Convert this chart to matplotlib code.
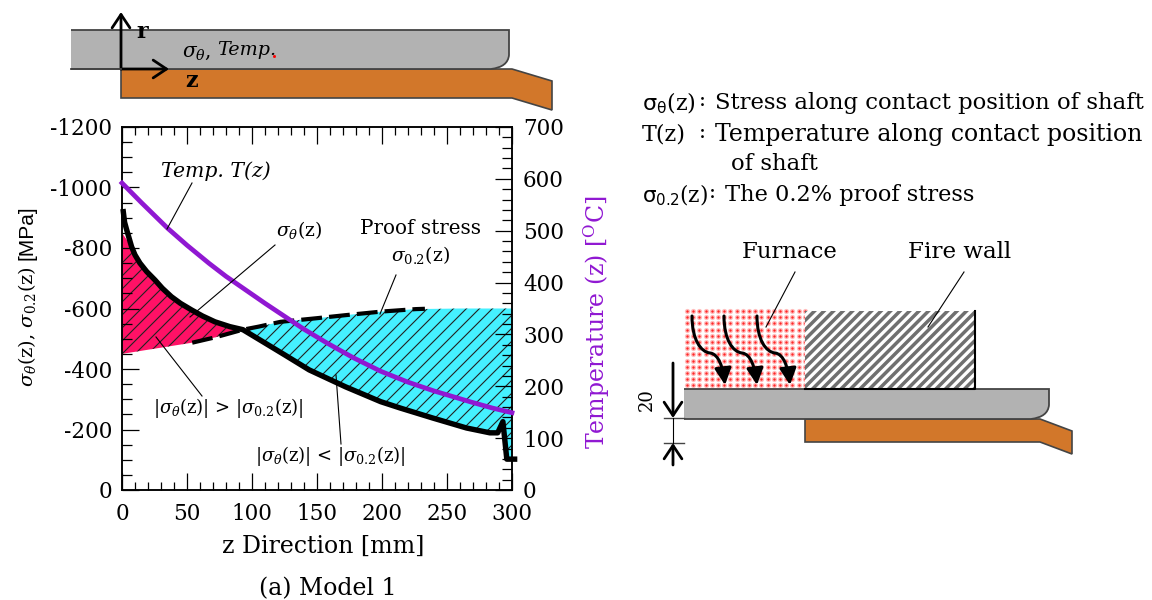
import numpy as np
import matplotlib
matplotlib.use("Agg")
import matplotlib.pyplot as plt
from matplotlib.patches import Polygon, Rectangle, FancyArrowPatch, PathPatch
from matplotlib.path import Path

plt.rcParams['font.family'] = ['DejaVu Serif']
plt.rcParams['mathtext.fontset'] = 'dejavuserif'

# values
z_stress = [1, 2, 3.6, 7.4, 10, 13.8, 19, 25.4, 31, 38, 45, 53.6, 62, 71.5, 83, 93, 110, 125, 144, 172, 199, 214, 239, 265, 283, 289, 293, 296, 302]
sigma = [-920, -885, -860, -804, -777, -750, -722, -694, -667, -639, -617, -595, -575, -556, -540, -530, -486, -447, -397, -341, -292, -271, -238, -205, -189, -189, -226, -102, -102]
z_proof = [0, 54, 72, 93, 105, 122, 150, 172, 200, 226, 260, 300]
proof = [-450, -487, -505, -530, -540, -556, -568, -578, -590, -598, -600, -600]
z_temp = [0, 15, 35, 50, 67, 80, 95, 110, 122, 140, 158, 178, 199, 220, 240, 268, 285, 300]
temp = [592, 554, 505, 472, 437, 412, 386, 360, 340, 310, 283, 255, 229, 208, 191, 170, 158, 149]
pink_start = -850
cross_z = 93

x_ticks = [0, 50, 100, 150, 200, 250, 300]
left_ticks = [0, -200, -400, -600, -800, -1000, -1200]
left_labels = ['0', '-200', '-400', '-600', '-800', '-1000', '-1200']
right_ticks = [0, 100, 200, 300, 400, 500, 600, 700]

PINK = '#ff1166'
CYAN = '#45f0ff'
PURPLE = '#9018d2'
BROWN = '#d2772a'
GRAY = '#b2b2b2'
EDGE = '#444444'
FS = 15.5

fig = plt.figure(figsize=(11.52, 6), dpi=100)
ax = fig.add_axes([122 / 1152, 110 / 600, 390 / 1152, 363 / 600])
ax.set_xlim(0, 300)
ax.set_ylim(0, -1200)

# overlay in pixel coordinates for the sketches and the notes
ov = fig.add_axes([0, 0, 1, 1], zorder=10)
ov.set_xlim(0, 1152)
ov.set_ylim(600, 0)
ov.axis('off')
ov.patch.set_alpha(0)

z_s = np.array(z_stress)
s = np.array(sigma)
z_p = np.array(z_proof)
p = np.array(proof)


def hatched(xs, ys, color):
    poly = Polygon(np.c_[xs, ys], closed=True, facecolor=color, edgecolor='none', zorder=1)
    ax.add_patch(poly)
    for c in np.arange(122, 512 + 240, 13):
        ln, = ax.plot([c - 240, c], [490, 250], color='#222222', lw=0.8,
                      transform=ov.transData, zorder=1.5)
        ln.set_clip_path(poly)


# region above the proof stress
keep_s = (z_s <= cross_z) & (s >= pink_start)
keep_p = z_p <= cross_z
hatched(np.r_[0, z_s[keep_s], z_p[keep_p][::-1]], np.r_[pink_start, s[keep_s], p[keep_p][::-1]], PINK)

# region below the proof stress
keep_s = z_s >= cross_z
keep_p = z_p >= cross_z
hatched(np.r_[z_p[keep_p], z_s[keep_s][::-1]], np.r_[p[keep_p], s[keep_s][::-1]], CYAN)

keep_p = (z_p >= 54) & (z_p <= 226)
ax.plot(np.r_[z_p[keep_p], 233], np.r_[p[keep_p], -599], color='k', lw=3, dashes=(5, 1.7), zorder=2)
ax.plot(z_s, s, color='k', lw=3.9, solid_joinstyle='round', clip_on=False, zorder=3)

ax.set_xticks(x_ticks)
ax.set_xticks(np.arange(0, 301, 10), minor=True)
ax.set_yticks(left_ticks)
ax.set_yticklabels(left_labels)
ax.set_yticks(np.arange(0, -1201, -50), minor=True)
ax.tick_params(axis='x', which='major', direction='in', top=True, length=12, width=0.9, labelsize=FS, pad=9)
ax.tick_params(axis='x', which='minor', direction='in', top=True, length=6, width=0.9)
ax.tick_params(axis='y', which='major', direction='in', length=12.5, width=0.9, labelsize=FS, pad=7)
ax.tick_params(axis='y', which='minor', direction='in', length=7, width=0.9)
for sp in ax.spines.values():
    sp.set_linewidth(1.1)

ax2 = ax.twinx()
ax2.set_ylim(0, 700)
ax2.set_yticks(right_ticks)
ax2.set_yticks(np.arange(0, 701, 20), minor=True)
ax2.tick_params(axis='y', which='major', direction='in', length=12.5, width=0.9, labelsize=FS, pad=8)
ax2.tick_params(axis='y', which='minor', direction='in', length=7, width=0.9)
ax2.plot(z_temp, temp, color=PURPLE, lw=3.4, clip_on=False, zorder=4)
for sp in ax2.spines.values():
    sp.set_linewidth(1.1)


def txt(x, y, s, **kw):
    kw.setdefault('fontsize', FS)
    kw.setdefault('va', 'center')
    kw.setdefault('ha', 'left')
    return ov.text(x, y, s, **kw)


def leader(x0, y0, x1, y1):
    ov.plot([x0, x1], [y0, y1], color='k', lw=0.8)


def shaft(x0, x1, top, bottom):
    # grey shaft with the rounded nose on the right
    verts = [(x0, top), (x1, top), (x1, bottom - 14), (x1 - 1, bottom - 2), (x1 - 18, bottom), (x0, bottom)]
    codes = [Path.MOVETO, Path.LINETO, Path.LINETO, Path.CURVE3, Path.CURVE3, Path.LINETO]
    ov.add_patch(PathPatch(Path(verts, codes), facecolor=GRAY, edgecolor=EDGE, lw=1.3))


def sleeve(x0, x1, top, bottom, xend):
    pts = [(x0, top), (x1, top), (xend, top + 12), (xend, bottom + 12), (x1, bottom), (x0, bottom)]
    ov.add_patch(Polygon(pts, closed=True, facecolor=BROWN, edgecolor=EDGE, lw=1.2))


def arrow(p0, p1, style='->,head_length=6,head_width=4', lw=2.0):
    ov.add_patch(FancyArrowPatch(p0, p1, arrowstyle=style, lw=lw, color='k', mutation_scale=1.6,
                                 shrinkA=0, shrinkB=0))


# top sketch
sleeve(121, 512, 69, 98, 552)
shaft(71, 509, 30, 69)
ov.plot([71, 121], [69, 69], color=EDGE, lw=1.3)
arrow((121, 69), (121, 12))
arrow((121, 69), (169, 69))
txt(136, 32, 'r', fontsize=16, fontweight='bold')
txt(185, 81, 'z', fontsize=16, fontweight='bold')
txt(182, 52, r'$\sigma_{\theta}$,', fontsize=FS - 1)
txt(217, 50, 'Temp.', fontsize=13.8, style='italic')
ov.plot([273.5], [56], marker='s', ms=1, color='r')

# notes on the chart
txt(161, 171, 'Temp. T(z)', fontsize=14.7, style='italic')
leader(192, 183, 167, 229)
txt(276, 230, r'$\sigma_{\theta}$(z)', fontsize=13.5)
leader(275, 245, 190, 317)
txt(360, 229, 'Proof stress', fontsize=14.3)
txt(391, 255, r'$\sigma_{0.2}$(z)', fontsize=13.5)
leader(396, 275, 380, 314)
txt(153, 408, r'|$\sigma_{\theta}$(z)| > |$\sigma_{0.2}$(z)|', fontsize=13)
leader(202, 396, 156, 337)
txt(255, 456, r'|$\sigma_{\theta}$(z)| < |$\sigma_{0.2}$(z)|', fontsize=13)
leader(341, 444, 336, 375)
txt(323, 546, 'z Direction [mm]', ha='center', fontsize=17)
txt(328, 589, '(a) Model 1', ha='center', fontsize=17)

txt(27, 327, r'$\sigma_{\theta}$(z), $\sigma_{0.2}$(z)', rotation=90, ha='center', fontsize=14)
txt(27, 233, '[MPa]', rotation=90, ha='center', fontsize=15, family='Liberation Sans')
txt(597, 322, r'Temperature (z) [$^{\mathrm{O}}$C]', rotation=90, ha='center', color=PURPLE, fontsize=17)

# legend text on the right
txt(642, 103, r'$\mathsf{\sigma_{\theta}}$(z)', fontsize=16)
txt(699, 101, ':', fontsize=15)
txt(715, 103, 'Stress along contact position of shaft', fontsize=16.4)
txt(642, 134, 'T(z)', fontsize=16)
txt(715, 134, 'Temperature along contact position', fontsize=17)
txt(699, 133, ':', fontsize=15)
txt(731, 164, 'of shaft', fontsize=16.4)
txt(642, 195, r'$\mathsf{\sigma_{0.2}}$(z)', fontsize=15.5)
txt(709, 193, ':', fontsize=15)
txt(725, 195, 'The 0.2% proof stress', fontsize=16.2)

# furnace and fire wall sketch
ov.add_patch(Rectangle((685, 309), 120, 79, facecolor='white', edgecolor='none'))
dot_x = []
dot_y = []
for yy in np.arange(311, 388, 6.2):
    for xx in np.arange(687, 805, 6.2):
        dot_x.append(xx)
        dot_y.append(yy)
ov.scatter(dot_x, dot_y, s=14, color='#ffbcbc', lw=0)
ov.scatter(dot_x, dot_y, s=3, color='#ff2828', lw=0)

wall = Rectangle((805, 311), 170, 78, facecolor='white', edgecolor='none')
ov.add_patch(wall)
for c in np.arange(805, 975 + 90, 9.5):
    line, = ov.plot([c - 90, c], [311 + 90, 311], color='#707070', lw=2.5)
    line.set_clip_path(wall)
ov.plot([805, 975, 975], [389, 389, 311], color='k', lw=1.5)

sleeve(805, 1040, 419, 442, 1072)
shaft(684, 1049, 389, 419)

curve_xs = [692, 724, 757]
for cx in curve_xs:
    verts = [(cx, 316), (cx, 340), (cx + 9, 352), (cx + 18, 353), (cx + 27, 354), (cx + 31, 368), (cx + 33, 385)]
    codes = [Path.MOVETO, Path.CURVE4, Path.CURVE4, Path.CURVE4, Path.CURVE4, Path.CURVE4, Path.CURVE4]
    ov.add_patch(FancyArrowPatch(path=Path(verts, codes), arrowstyle='-|>,head_length=4,head_width=2',
                                 lw=2.2, color='k', mutation_scale=2.5))

txt(790, 252, 'Furnace', ha='center', fontsize=16.4)
leader(795, 272, 766, 327)
txt(960, 252, 'Fire wall', ha='center', fontsize=16.6)
leader(964, 272, 928, 327)

arrow((673, 363), (673, 418))
arrow((673, 465), (673, 443))
ov.plot([664, 684], [418, 418], color=EDGE, lw=1)
ov.plot([664, 684], [443, 443], color=EDGE, lw=1)
ov.plot([673, 673], [418, 443], color='k', lw=0.8)
txt(647, 400, '20', rotation=90, ha='center', fontsize=13)

fig.savefig('out.png', dpi=100)
